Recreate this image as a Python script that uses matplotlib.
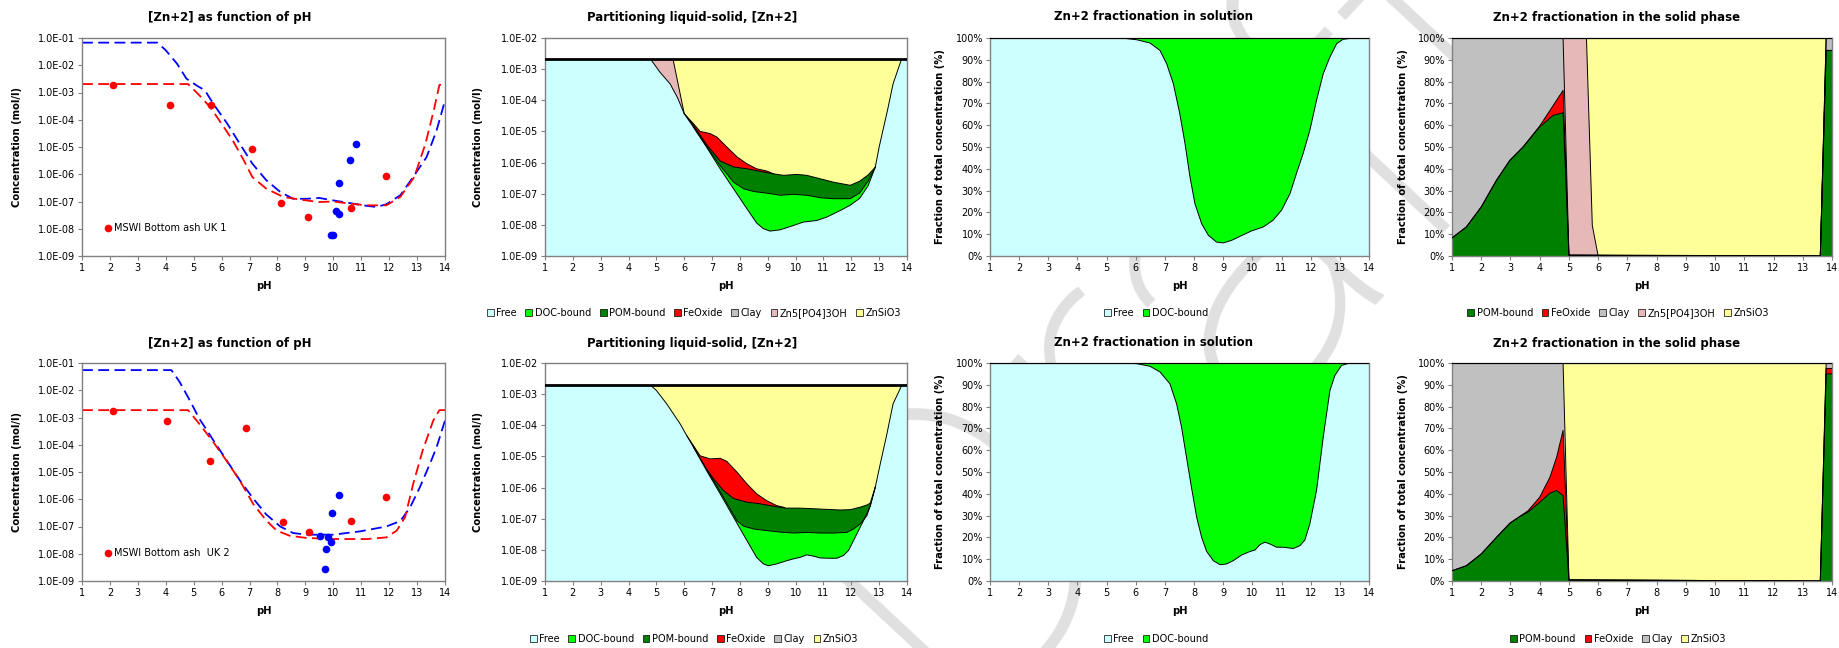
import matplotlib.pyplot as plt
import numpy as np
from matplotlib.lines import Line2D
from matplotlib.patches import Patch
from matplotlib.ticker import FuncFormatter

plt.rcParams["font.family"] = ["DejaVu Sans"]

W, H = 1839, 648

# ---------------------------------------------------------------- data
# [Zn+2] as function of pH: model curves (log10 mol/l) and measurements
uk1_model_red_ph = [1, 4.8, 5.2, 5.6, 6.0, 6.4, 6.8, 7.1, 7.6, 8.2, 8.8, 9.5, 10.0, 10.6, 11.2, 11.9, 12.4, 12.9, 13.3, 13.6, 13.8, 14]
uk1_model_red_log = [-2.69, -2.69, -3.1, -3.55, -4.15, -4.76, -5.5, -6.1, -6.53, -6.83, -6.93, -7.02, -7.0, -7.08, -7.14, -7.14, -6.83, -6.1, -4.88, -3.65, -2.72, -2.72]
uk1_model_blue_ph = [1, 3.7, 4.0, 4.4, 4.74, 5.1, 5.4, 5.7, 6.2, 6.65, 7.1, 7.6, 8.1, 8.56, 9.04, 9.5, 10.0, 10.6, 11.2, 11.55, 11.9, 12.4, 12.86, 13.34, 13.7, 14]
uk1_model_blue_log = [-1.17, -1.17, -1.45, -1.94, -2.49, -2.74, -2.92, -3.41, -4.14, -4.88, -5.61, -6.22, -6.65, -6.9, -6.9, -6.87, -6.96, -7.06, -7.16, -7.2, -7.1, -6.77, -6.1, -5.37, -4.39, -3.29]
uk1_meas_red_ph = [2.11, 4.14, 5.61, 7.09, 8.14, 9.1, 10.64, 11.88]
uk1_meas_red_log = [-2.74, -3.47, -3.47, -5.06, -7.07, -7.57, -7.23, -6.06]
uk1_meas_blue_ph = [10.8, 10.6, 10.2, 10.09, 10.19, 9.91, 10.0]
uk1_meas_blue_log = [-4.88, -5.46, -6.32, -7.35, -7.45, -8.22, -8.22]

uk2_model_red_ph = [1, 4.8, 5.2, 5.7, 6.17, 6.65, 7.13, 7.6, 7.97, 8.44, 9.04, 10.0, 11.2, 11.9, 12.27, 12.57, 12.86, 13.2, 13.58, 13.8, 14]
uk2_model_red_log = [-2.73, -2.73, -3.23, -3.9, -4.58, -5.31, -6.17, -6.78, -7.15, -7.34, -7.42, -7.46, -7.46, -7.4, -7.15, -6.66, -5.44, -4.21, -3.11, -2.73, -2.73]
uk2_model_blue_ph = [1, 4.2, 4.5, 4.86, 5.2, 5.7, 6.17, 6.65, 7.13, 7.6, 8.1, 8.56, 9.04, 10.0, 10.95, 11.9, 12.4, 12.75, 13.1, 13.46, 13.7, 14]
uk2_model_blue_log = [-1.26, -1.26, -1.7, -2.37, -3.04, -3.83, -4.56, -5.3, -5.97, -6.56, -7.0, -7.24, -7.3, -7.3, -7.18, -7.0, -6.8, -6.3, -5.56, -4.7, -4.09, -3.11]
uk2_meas_red_ph = [2.11, 4.06, 5.6, 6.89, 8.2, 9.14, 10.64, 11.88]
uk2_meas_red_log = [-2.76, -3.13, -4.58, -3.39, -6.83, -7.2, -6.78, -5.91]
uk2_meas_blue_ph = [10.21, 9.96, 9.52, 9.82, 9.9, 9.73, 9.72]
uk2_meas_blue_log = [-5.84, -6.49, -7.36, -7.4, -7.58, -7.83, -8.55]

# Partitioning liquid-solid: cumulative upper edge of each fraction (log10 mol/l)
uk1_total_log = -2.69
uk1_free_ph = [1, 4.8, 5.13, 5.49, 5.75, 6.0, 6.33, 6.8, 7.29, 7.77, 8.25, 8.6, 8.84, 9.08, 9.44, 9.92, 10.28, 10.76, 11.12, 11.6, 11.96, 12.3, 12.6, 12.86, 13.0, 13.3, 13.5, 13.8, 14]
uk1_free_log = [-2.69, -2.69, -3.1, -3.47, -3.9, -4.43, -4.86, -5.5, -6.2, -6.84, -7.48, -7.94, -8.12, -8.2, -8.16, -8.02, -7.91, -7.86, -7.75, -7.54, -7.37, -7.15, -6.75, -6.15, -5.5, -4.32, -3.47, -2.69, -2.69]
uk1_doc_ph = [6.33, 6.8, 7.05, 7.29, 7.77, 8.13, 8.5, 8.96, 9.44, 9.92, 10.4, 10.9, 11.36, 11.96, 12.3, 12.6, 12.86]
uk1_doc_log = [-4.86, -5.47, -5.8, -6.1, -6.63, -6.84, -6.93, -6.98, -7.05, -7.02, -7.05, -7.13, -7.16, -7.16, -6.98, -6.6, -6.15]
uk1_pom_ph = [6.0, 6.33, 6.8, 7.29, 7.77, 8.25, 8.72, 9.2, 9.56, 10.04, 10.4, 10.88, 11.36, 11.96, 12.3, 12.6, 12.86]
uk1_pom_log = [-4.43, -4.8, -5.42, -5.95, -6.14, -6.2, -6.28, -6.36, -6.41, -6.38, -6.41, -6.52, -6.63, -6.73, -6.6, -6.4, -6.15]
uk1_feox_ph = [6.0, 6.33, 6.57, 6.93, 7.17, 7.53, 7.9, 8.25, 8.6, 8.96, 9.2]
uk1_feox_log = [-4.43, -4.75, -5.0, -5.07, -5.18, -5.5, -5.82, -6.04, -6.2, -6.27, -6.36]
uk1_zn5_ph = [4.8, 5.6, 6.0]
uk1_zn5_log = [-2.69, -2.69, -4.43]

uk2_total_log = -2.72
uk2_free_ph = [1, 4.8, 5.0, 5.37, 5.85, 6.09, 6.33, 6.8, 7.29, 7.77, 8.25, 8.6, 8.84, 9.02, 9.32, 9.68, 9.92, 10.16, 10.4, 10.64, 10.88, 11.24, 11.48, 11.72, 11.9, 12.08, 12.32, 12.5, 12.68, 12.86, 13.04, 13.28, 13.5, 13.81, 14]
uk2_free_log = [-2.72, -2.72, -2.88, -3.31, -3.95, -4.33, -4.7, -5.45, -6.2, -6.95, -7.7, -8.24, -8.45, -8.51, -8.45, -8.35, -8.29, -8.24, -8.16, -8.2, -8.26, -8.27, -8.27, -8.18, -8.02, -7.7, -7.27, -6.95, -6.6, -5.99, -5.24, -4.27, -3.31, -2.72, -2.72]
uk2_doc_ph = [6.8, 7.17, 7.53, 7.89, 8.13, 8.49, 8.96, 9.44, 9.92, 10.4, 10.88, 11.36, 11.84, 12.08, 12.32, 12.56, 12.68, 12.86]
uk2_doc_log = [-5.43, -5.95, -6.5, -7.06, -7.24, -7.33, -7.38, -7.43, -7.46, -7.44, -7.46, -7.46, -7.44, -7.33, -7.17, -6.9, -6.58, -5.99]
uk2_pom_ph = [6.33, 6.8, 7.05, 7.41, 7.77, 8.25, 8.72, 9.2, 9.68, 10.16, 10.64, 11.12, 11.6, 11.96, 12.32, 12.56, 12.68, 12.86]
uk2_pom_log = [-4.7, -5.4, -5.72, -6.1, -6.35, -6.47, -6.52, -6.6, -6.66, -6.66, -6.68, -6.7, -6.72, -6.71, -6.63, -6.56, -6.5, -5.99]
uk2_feox_ph = [6.09, 6.33, 6.57, 6.93, 7.29, 7.53, 7.89, 8.25, 8.6, 8.96, 9.32, 9.6]
uk2_feox_log = [-4.33, -4.65, -4.98, -5.08, -5.06, -5.16, -5.5, -5.88, -6.2, -6.42, -6.58, -6.64]

# Zn+2 fractionation in solution: free share of dissolved Zn (%)
uk1_sol_ph = [1, 5.5, 6.03, 6.49, 6.83, 7.06, 7.29, 7.51, 7.69, 7.86, 8.03, 8.26, 8.49, 8.77, 9.0, 9.29, 9.57, 9.97, 10.37, 10.71, 11.0, 11.29, 11.51, 11.74, 11.97, 12.2, 12.43, 12.66, 12.89, 13.11, 13.34, 14]
uk1_sol_free = [100, 100, 99.2, 97.7, 94.3, 88.2, 79, 65.3, 51.5, 36.2, 24, 14.8, 9.5, 6.4, 6.0, 7.2, 9.0, 11.5, 13.3, 16.4, 21, 28.6, 37.8, 47, 57.6, 71.4, 83.6, 91.3, 97.4, 99.4, 99.8, 100]
uk2_sol_ph = [1, 5.5, 6.03, 6.49, 6.83, 7.17, 7.4, 7.57, 7.74, 7.91, 8.09, 8.26, 8.43, 8.66, 8.89, 9.11, 9.34, 9.63, 9.91, 10.09, 10.26, 10.43, 10.6, 10.83, 11.06, 11.4, 11.63, 11.8, 11.97, 12.2, 12.43, 12.66, 12.83, 13.06, 13.34, 14]
uk2_sol_free = [100, 100, 99.7, 98.5, 95.9, 90.5, 81.3, 70.6, 56.8, 43, 29.2, 20, 13.6, 9.3, 7.5, 7.8, 9.3, 11.9, 13.5, 14.2, 16.7, 17.8, 17, 15.5, 15.5, 14.9, 16.2, 18.8, 26.2, 41.5, 66, 87.4, 94.3, 98.9, 100, 100]

# Zn+2 fractionation in the solid phase: cumulative upper edges (%)
uk1_solid_ph = [1, 1.49, 2.0, 2.52, 2.98, 3.43, 4.0, 4.46, 4.8, 5.0, 13.6, 13.8, 14]
uk1_solid_pom = [8.3, 13.3, 22.5, 34.7, 43.9, 50, 59.2, 64.5, 65.7, 0.3, 0, 94.3, 94.3]
uk1_solid_feox = [8.3, 13.3, 22.5, 34.7, 43.9, 50, 59.6, 69, 76, 0.3, 0, 94.3, 94.3]
uk1_solid_clay_ph = [1, 4.8, 5.0, 13.6, 13.8, 14]
uk1_solid_clay = [100, 100, 0.5, 0, 100, 100]
uk1_solid_zn5_ph = [1, 4.8, 5.6, 5.8, 6.0, 13.6, 13.8, 14]
uk1_solid_zn5 = [100, 100, 100, 14, 0, 0, 100, 100]

uk2_solid_ph = [1, 1.49, 2.0, 2.52, 2.98, 3.32, 3.6, 4.0, 4.35, 4.58, 4.8, 5.0, 13.6, 13.8, 14]
uk2_solid_pom = [4.7, 7, 12.4, 20, 26.5, 29.6, 31.6, 36.1, 40.3, 41.5, 39.2, 0.5, 0, 95, 95]
uk2_solid_feox = [4.7, 7, 12.4, 20, 26.5, 29.6, 32.2, 38.4, 47.6, 56.8, 69.1, 0.5, 0, 97.5, 97.5]
uk2_solid_clay_ph = [1, 4.8, 5.0, 13.6, 13.8, 14]
uk2_solid_clay = [100, 100, 0.5, 0, 100, 100]

COLORS = {
    "Free": "#ccffff",
    "DOC-bound": "#00ff00",
    "POM-bound": "#008000",
    "FeOxide": "#ff0000",
    "Clay": "#c0c0c0",
    "Zn5[PO4]3OH": "#e6b9b8",
    "ZnSiO3": "#ffff99",
}
PH_TICKS = list(range(1, 15))
FS_TICK = 7
FS_LABEL = 7.2
FS_TITLE = 8.5


def fx(px):
    return px / W


def fy(py):
    return 1 - py / H


def axes_at(left, top, right, bottom):
    return fig.add_axes([fx(left), fy(bottom), (right - left) / W, (bottom - top) / H])


def style_axes(ax, ylabel, ylabel_x):
    ax.set_xlim(1, 14)
    ax.set_xticks(PH_TICKS)
    for side in ax.spines.values():
        side.set_color("#808080")
        side.set_linewidth(1.0)
    ax.tick_params(direction="out", length=3, width=0.8, color="#808080",
                   labelsize=FS_TICK, pad=2)
    ax.minorticks_off()
    ax.set_xlabel("pH", fontsize=FS_LABEL, fontweight="bold")
    ax.xaxis.set_label_coords(0.5, -0.115)
    ax.set_ylabel(ylabel, fontsize=FS_LABEL, fontweight="bold")
    ax.yaxis.set_label_coords(ylabel_x, 0.5)


def log_axis(ax, lo, hi):
    ax.set_yscale("log")
    ax.set_ylim(10.0 ** lo, 10.0 ** hi)
    ax.set_yticks([10.0 ** k for k in range(lo, hi + 1)])
    ax.yaxis.set_major_formatter(FuncFormatter(lambda v, _: f"{v:.1E}"))
    ax.minorticks_off()


def pct_axis(ax):
    ax.set_ylim(0, 100)
    ax.set_yticks(range(0, 101, 10))
    ax.yaxis.set_major_formatter(FuncFormatter(lambda v, _: f"{v:.0f}%"))


def stack(ax, layers, floor):
    # layers go bottom to top; paint from the top layer down so that each
    # lower fraction covers the part below its own upper edge
    for name, ph, top in reversed(layers):
        ph = np.asarray(ph, float)
        top = np.asarray(top, float)
        ax.fill(np.r_[ph, ph[-1], ph[0]], np.r_[top, floor, floor],
                color=COLORS[name], lw=0, zorder=1)
    for name, ph, top in layers:
        ax.plot(ph, top, color="black", lw=0.7, zorder=3)


def legend(names, x, y):
    handles = [Patch(facecolor=COLORS[n], edgecolor="black", linewidth=0.5) for n in names]
    fig.legend(handles, names, loc="center", bbox_to_anchor=(fx(x), fy(y)),
               ncol=len(names), frameon=False, fontsize=7, handlelength=0.7,
               handleheight=0.7, handletextpad=0.25, columnspacing=0.9,
               borderaxespad=0, borderpad=0)


fig = plt.figure(figsize=(W / 100, H / 100), dpi=100)

# large watermark behind all charts
fig.text(fx(1177), fy(301), "Draft", rotation=47, fontsize=310, color="#e0e0e0",
         family=["Roboto", "DejaVu Sans"], fontweight="light",
         ha="center", va="center", zorder=-5)

rows = [
    dict(top=38, bottom=256, title_y=17, legend_y=313,
         red=(uk1_model_red_ph, uk1_model_red_log, uk1_meas_red_ph, uk1_meas_red_log),
         blue=(uk1_model_blue_ph, uk1_model_blue_log, uk1_meas_blue_ph, uk1_meas_blue_log),
         total=uk1_total_log,
         part=[("Free", uk1_free_ph, uk1_free_log), ("DOC-bound", uk1_doc_ph, uk1_doc_log),
               ("POM-bound", uk1_pom_ph, uk1_pom_log), ("FeOxide", uk1_feox_ph, uk1_feox_log),
               ("Zn5[PO4]3OH", uk1_zn5_ph, uk1_zn5_log)],
         part_names=["Free", "DOC-bound", "POM-bound", "FeOxide", "Clay", "Zn5[PO4]3OH", "ZnSiO3"],
         sol=(uk1_sol_ph, uk1_sol_free),
         solid=[("POM-bound", uk1_solid_ph, uk1_solid_pom), ("FeOxide", uk1_solid_ph, uk1_solid_feox),
                ("Clay", uk1_solid_clay_ph, uk1_solid_clay),
                ("Zn5[PO4]3OH", uk1_solid_zn5_ph, uk1_solid_zn5)],
         solid_names=["POM-bound", "FeOxide", "Clay", "Zn5[PO4]3OH", "ZnSiO3"],
         label="MSWI Bottom ash UK 1"),
    dict(top=363, bottom=581, title_y=343, legend_y=639,
         red=(uk2_model_red_ph, uk2_model_red_log, uk2_meas_red_ph, uk2_meas_red_log),
         blue=(uk2_model_blue_ph, uk2_model_blue_log, uk2_meas_blue_ph, uk2_meas_blue_log),
         total=uk2_total_log,
         part=[("Free", uk2_free_ph, uk2_free_log), ("DOC-bound", uk2_doc_ph, uk2_doc_log),
               ("POM-bound", uk2_pom_ph, uk2_pom_log), ("FeOxide", uk2_feox_ph, uk2_feox_log)],
         part_names=["Free", "DOC-bound", "POM-bound", "FeOxide", "Clay", "ZnSiO3"],
         sol=(uk2_sol_ph, uk2_sol_free),
         solid=[("POM-bound", uk2_solid_ph, uk2_solid_pom), ("FeOxide", uk2_solid_ph, uk2_solid_feox),
                ("Clay", uk2_solid_clay_ph, uk2_solid_clay)],
         solid_names=["POM-bound", "FeOxide", "Clay", "ZnSiO3"],
         label="MSWI Bottom ash  UK 2"),
]

for row in rows:
    top, bottom = row["top"], row["bottom"]

    # [Zn+2] as function of pH
    ax = axes_at(82, top, 445, bottom)
    log_axis(ax, -9, -1)
    for color, (mph, mlog, dph, dlog) in (("#0000ff", row["blue"]), ("#ff0000", row["red"])):
        ax.plot(mph, 10.0 ** np.asarray(mlog), color=color, lw=1.3, dashes=(6, 3), zorder=2)
    for color, (mph, mlog, dph, dlog) in (("#ff0000", row["red"]), ("#0000ff", row["blue"])):
        ax.plot(dph, 10.0 ** np.asarray(dlog), "o", color=color, ms=5.5, mew=0, zorder=3)
    style_axes(ax, "Concentration (mol/l)", -0.165)
    ax.legend([Line2D([], [], ls="", marker="o", color="#ff0000", ms=5.5, mew=0)],
              [row["label"]], loc="center left", bbox_to_anchor=(0.055, 0.128),
              frameon=False, fontsize=7, handletextpad=0.0, borderaxespad=0,
              borderpad=0, handlelength=1.2)
    fig.text(fx(230), fy(row["title_y"]), "[Zn+2] as function of pH",
             fontsize=FS_TITLE, fontweight="bold", ha="center", va="center")

    # Partitioning liquid-solid
    ax = axes_at(545, top, 907, bottom)
    log_axis(ax, -9, -2)
    total = 10.0 ** row["total"]
    layers = [(n, ph, 10.0 ** np.asarray(v)) for n, ph, v in row["part"]]
    layers.append(("ZnSiO3", [1, 14], [total, total]))
    stack(ax, layers, 1e-10)
    ax.plot([1, 14], [total, total], color="black", lw=2.0, zorder=4)
    style_axes(ax, "Concentration (mol/l)", -0.17)
    fig.text(fx(692), fy(row["title_y"]), "Partitioning liquid-solid, [Zn+2]",
             fontsize=FS_TITLE, fontweight="bold", ha="center", va="center")
    legend(row["part_names"], 694, row["legend_y"])

    # Zn+2 fractionation in solution
    ax = axes_at(990, top, 1369, bottom)
    pct_axis(ax)
    sph, sfree = row["sol"]
    stack(ax, [("Free", sph, sfree), ("DOC-bound", [1, 14], [100, 100])], 0)
    ax.plot([1, 14], [100, 100], color="black", lw=1.5, zorder=4)
    style_axes(ax, "Fraction of total concentration (%)", -0.118)
    fig.text(fx(1154), fy(row["title_y"]), "Zn+2 fractionation in solution",
             fontsize=FS_TITLE, fontweight="bold", ha="center", va="center")
    legend(["Free", "DOC-bound"], 1156, row["legend_y"])

    # Zn+2 fractionation in the solid phase
    ax = axes_at(1452, top, 1832, bottom)
    pct_axis(ax)
    stack(ax, row["solid"] + [("ZnSiO3", [1, 14], [100, 100])], 0)
    ax.plot([1, 14], [100, 100], color="black", lw=1.5, zorder=4)
    style_axes(ax, "Fraction of total concentration (%)", -0.115)
    fig.text(fx(1617), fy(row["title_y"]), "Zn+2 fractionation in the solid phase",
             fontsize=FS_TITLE, fontweight="bold", ha="center", va="center")
    legend(row["solid_names"], 1618, row["legend_y"])

fig.savefig("out.png", dpi=100)
